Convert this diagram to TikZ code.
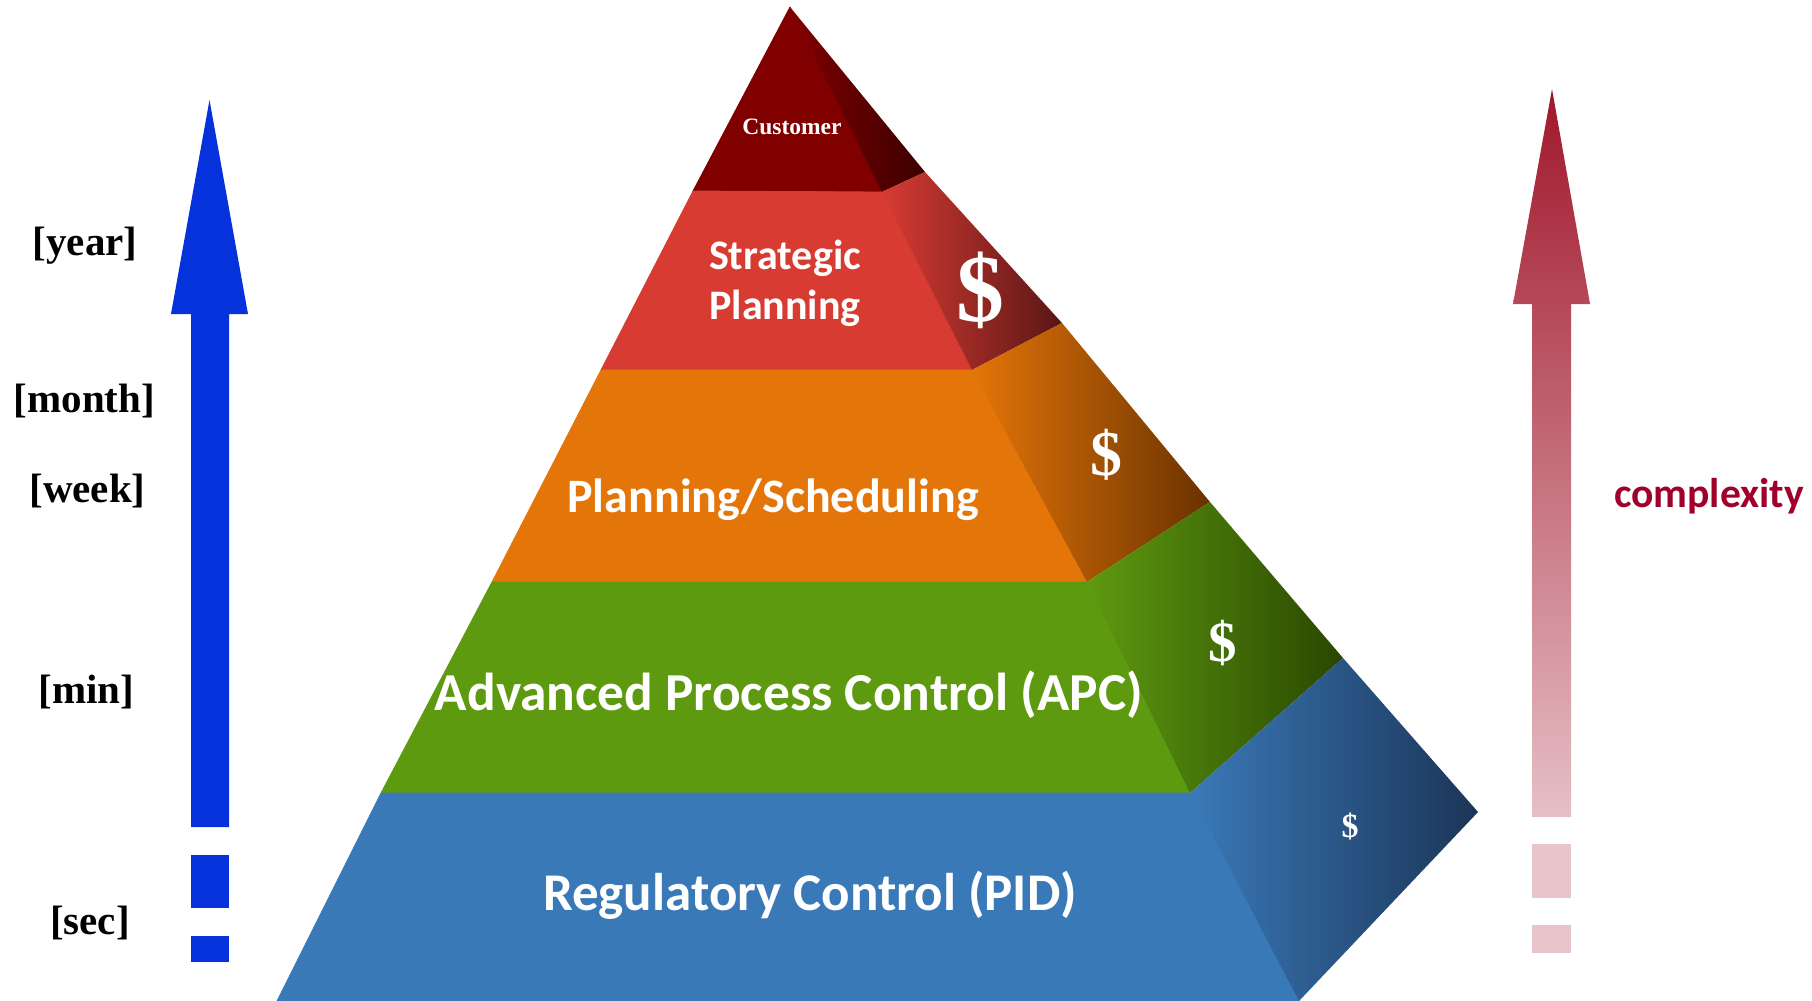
\documentclass[tikz,border=0pt]{standalone}
\usepackage{fontspec}
\setmainfont{Liberation Serif}
\newfontfamily\carlito{Carlito}

% layer colours: front face and the dark end of the side facet
\definecolor{custF}{HTML}{800000}
\definecolor{custD}{HTML}{3C0000}
\definecolor{stratF}{HTML}{D73B32}
\definecolor{stratD}{HTML}{5A1616}
\definecolor{planF}{HTML}{E47508}
\definecolor{planD}{HTML}{693200}
\definecolor{apcF}{HTML}{5E9A10}
\definecolor{apcD}{HTML}{294700}
\definecolor{pidF}{HTML}{3A79B8}
\definecolor{pidD}{HTML}{1B3557}
% arrows
\definecolor{timeblue}{HTML}{0532DA}
\definecolor{cplxTop}{HTML}{A0172B}
\definecolor{cplxBot}{HTML}{E6BFC6}
\definecolor{cplxDash}{HTML}{E8C5CB}
\definecolor{cplxText}{HTML}{A1002A}

\tikzset{
  front/.style={fill=#1, draw=#1, line width=0.8pt, line join=round},
  timelabel/.style={inner sep=0pt, text=black, font=\bfseries\fontsize{41}{48}\selectfont},
  layertext/.style 2 args={inner sep=0pt, text=white, align=center, font=\carlito\bfseries\fontsize{#1}{#2}\selectfont},
  dollar/.style={inner sep=0pt, text=white, font=\bfseries\fontsize{#1}{#1}\selectfont},
}

\begin{document}
\begin{tikzpicture}[x=1pt, y=-1pt]
\useasboundingbox (0,0) rectangle (1812,1001);

% pyramid vertices: apex, left edge, front/side ridge, right edge
\coordinate (A)  at (790,7);
\coordinate (L1) at (693,191);
\coordinate (L2) at (601,370);
\coordinate (L3) at (492,582);
\coordinate (L4) at (381,793);
\coordinate (L5) at (277,1001);
\coordinate (F1) at (882,192);
\coordinate (F2) at (972,370);
\coordinate (F3) at (1087,582);
\coordinate (F4) at (1190,793);
\coordinate (F5) at (1299,1001);
\coordinate (R1) at (925,172);
\coordinate (R2) at (1062,323);
\coordinate (R3) at (1210,502);
\coordinate (R4) at (1343,658);
\coordinate (R5) at (1478,812);

% customer
\filldraw[front=custF] (A) -- (L1) -- (F1) -- cycle;
\shade[left color=custF, right color=custD] (A) -- (F1) -- (R1) -- cycle;
% strategic planning
\filldraw[front=stratF] (L1) -- (F1) -- (F2) -- (L2) -- cycle;
\shade[left color=stratF, right color=stratD] (F1) -- (R1) -- (R2) -- (F2) -- cycle;
% planning / scheduling
\filldraw[front=planF] (L2) -- (F2) -- (F3) -- (L3) -- cycle;
\shade[left color=planF, right color=planD] (F2) -- (R2) -- (R3) -- (F3) -- cycle;
% APC
\filldraw[front=apcF] (L3) -- (F3) -- (F4) -- (L4) -- cycle;
\shade[left color=apcF, middle color=apcF!85!apcD, right color=apcD] (F3) -- (R3) -- (R4) -- (F4) -- cycle;
% PID
\filldraw[front=pidF] (L4) -- (F4) -- (F5) -- (L5) -- cycle;
\shade[left color=pidF, right color=pidD] (F4) -- (R4) -- (R5) -- (F5) -- cycle;

% layer captions
\node[inner sep=0pt, text=white, font=\bfseries\fontsize{23.5}{28}\selectfont] (tcust) at (792,127) {Customer};
\node[layertext={42}{50}] (tstrat) at (785,283) {Strategic\\Planning};
\node[layertext={48}{56}, anchor=base] (tplan) at (773,512) {Planning/Scheduling};
\node[layertext={53.4}{62}, anchor=base] (tapc) at (789,710) {Advanced Process Control (APC)};
\node[layertext={53}{62}, anchor=base] (tpid) at (810,910) {Regulatory Control (PID)};

% cost marks on the side facets
\node[dollar=96] (d1) at (980,290) {\$};
\node[dollar=64] (d2) at (1106,455) {\$};
\node[dollar=57] (d3) at (1223,643) {\$};
\node[dollar=34] (d4) at (1350,826) {\$};

% time-scale arrow
\fill[timeblue] (191,827) -- (191,314) -- (171,314) -- (209.5,100) -- (248,314) -- (229,314) -- (229,827) -- cycle;
\fill[timeblue] (191,855) rectangle (229,908);
\fill[timeblue] (191,936) rectangle (229,962);

\node[timelabel] (year)  at (85,246)   {[year]};
\node[timelabel] (month) at (84.5,401) {[month]};
\node[timelabel] (week)  at (87.5,491) {[week]};
\node[timelabel] (min)   at (86.5,692) {[min]};
\node[timelabel] (sec)   at (90,923)   {[sec]};

% complexity arrow
\shade[top color=cplxTop, bottom color=cplxBot] (1532,817) -- (1532,304) -- (1513,304) -- (1552,89) -- (1590,304) -- (1571,304) -- (1571,817) -- cycle;
\fill[cplxDash] (1532,844) rectangle (1571,898);
\fill[cplxDash] (1532,925) rectangle (1571,953);
\node[inner sep=0pt, anchor=base, text=cplxText, font=\carlito\bfseries\fontsize{41.6}{48}\selectfont] (cplx) at (1709,507) {complexity};
\end{tikzpicture}
\end{document}
